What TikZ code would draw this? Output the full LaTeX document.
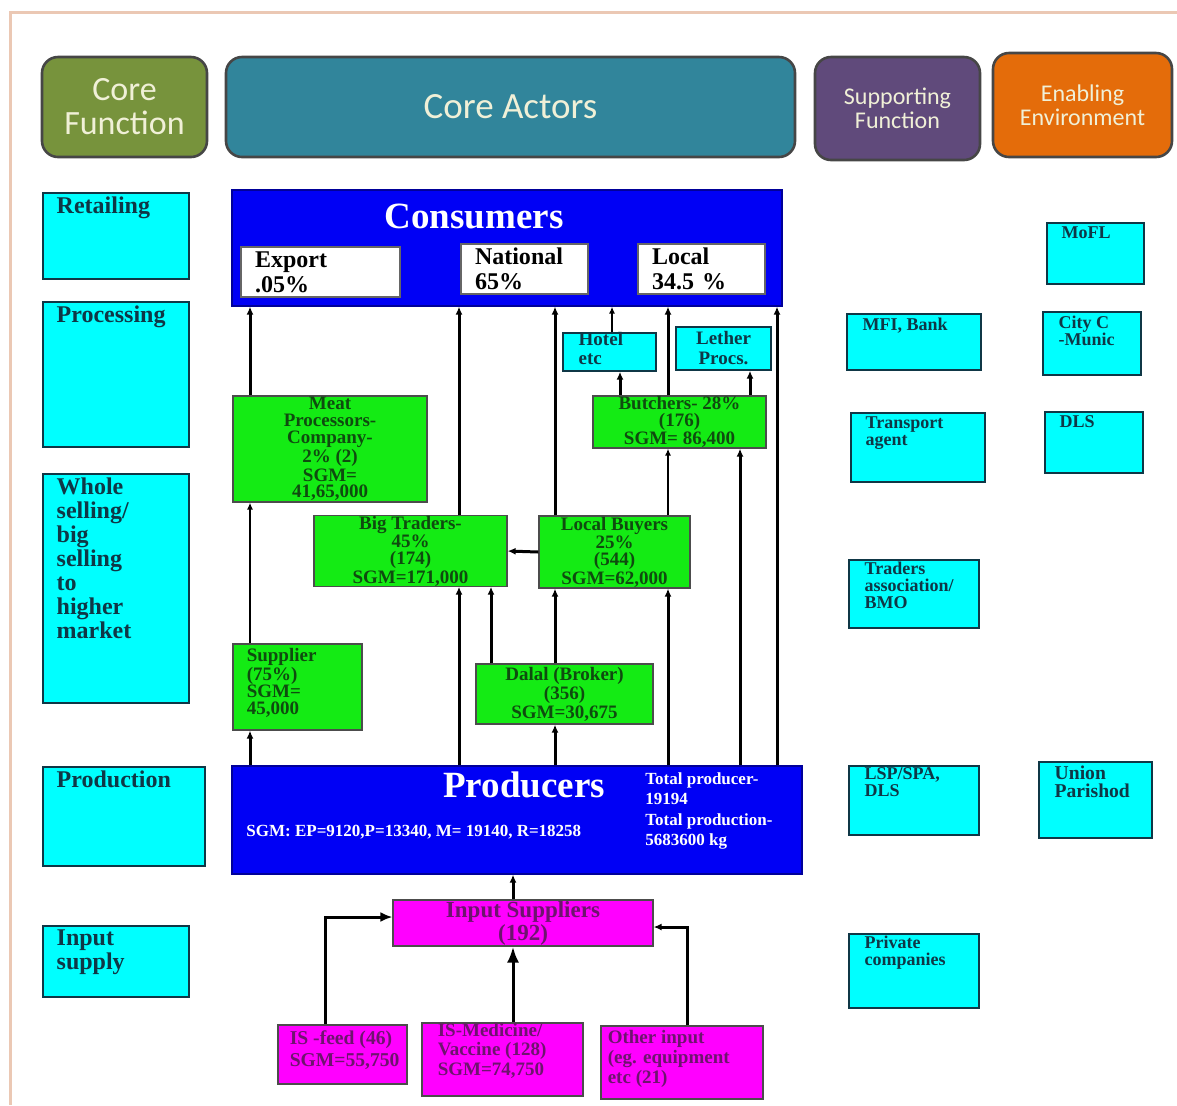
\documentclass[tikz,border=0pt]{standalone}
\usepackage{fontspec}
\setmainfont{Liberation Serif}
\newfontfamily\hdrfont{Carlito}
\usetikzlibrary{arrows.meta}

\definecolor{hdrgreen}{RGB}{119,147,60}
\definecolor{hdrteal}{RGB}{49,133,155}
\definecolor{hdrpurple}{RGB}{96,74,123}
\definecolor{hdrorange}{RGB}{228,108,10}
\definecolor{hdrgray}{RGB}{70,70,70}
\definecolor{hdrtext}{RGB}{240,240,215}
\definecolor{cyanfill}{RGB}{0,255,255}
\definecolor{limefill}{RGB}{20,235,20}
\definecolor{magfill}{RGB}{255,0,255}
\definecolor{consblue}{RGB}{0,0,245}
\definecolor{labteal}{RGB}{15,55,70}
\definecolor{labgreen}{RGB}{15,75,15}
\definecolor{labpurple}{RGB}{110,20,110}
\definecolor{framepeach}{RGB}{235,200,180}

\tikzset{
  hdr/.style={draw=hdrgray, line width=1.3pt, rounded corners=8pt, text=hdrtext, align=center, inner sep=0pt},
  cybox/.style={draw=labteal, line width=0.7pt, fill=cyanfill, inner sep=0pt},
  grbox/.style={draw=black!70, line width=0.6pt, fill=limefill, text=labgreen, align=center, inner sep=0pt,
    font=\bfseries\fontsize{9.5}{8.3}\selectfont},
  mgbox/.style={draw=black!70, line width=0.6pt, fill=magfill, text=labpurple, align=center, inner sep=0pt},
  bluebox/.style={draw=blue!60!black, line width=0.6pt, fill=consblue, inner sep=0pt},
  whbox/.style={draw=black!60, line width=0.6pt, fill=white, align=left, inner xsep=7pt, inner ysep=0pt,
    font=\bfseries\fontsize{12}{12.5}\selectfont},
  lbl/.style={anchor=north west, text=labteal, align=left, inner xsep=7pt, inner ysep=2pt,
    font=\bfseries\fontsize{12}{12}\selectfont},
  rlbl/.style={anchor=north west, text=labteal, align=left, inner xsep=8pt, inner ysep=2pt,
    font=\bfseries\fontsize{9}{8.5}\selectfont},
  flow/.style={line width=1.5pt, -{Latex[length=4pt,width=3.5pt]}},
  thinflow/.style={line width=1pt, -{Latex[length=3.5pt,width=3pt]}},
}

\begin{document}
\begin{tikzpicture}[x=0.5pt, y=-0.5pt]
\useasboundingbox (0,0) rectangle (1177,1105);
\draw[framepeach, line width=1.5pt] (10,1105) -- (10,12) -- (1177,12);

% headers
\node[hdr, fill=hdrgreen, minimum width=82.5pt, minimum height=50pt, font=\hdrfont\fontsize{17}{17}\selectfont] (corefn) at (124.5,107) {Core\\Function};
\node[hdr, fill=hdrteal, minimum width=284.5pt, minimum height=50pt, font=\hdrfont\fontsize{18.5}{18.5}\selectfont] (coreact) at (510.5,107) {Core Actors};
\node[hdr, fill=hdrpurple, minimum width=82.5pt, minimum height=51.5pt, font=\hdrfont\fontsize{12}{12}\selectfont] (suppfn) at (897.5,108.5) {Supporting\\Function};
\node[hdr, fill=hdrorange, minimum width=89.5pt, minimum height=52pt, font=\hdrfont\fontsize{12}{12}\selectfont] (enabenv) at (1082.5,105) {Enabling\\Environment};

% core functions
\node[cybox, minimum width=73pt, minimum height=43pt] (retail) at (116,236) {};
\node[lbl] (retailtxt) at (retail.north west) {Retailing};
\node[cybox, minimum width=73pt, minimum height=72.5pt] (process) at (116,374.5) {};
\node[lbl] (processtxt) at (process.north west) {Processing};
\node[cybox, minimum width=73pt, minimum height=114.5pt] (whsell) at (116,588.5) {};
\node[lbl] (whselltxt) at (whsell.north west) {Whole\\selling/\\big\\selling\\to\\higher\\market};
\node[cybox, minimum width=81pt, minimum height=49.5pt] (prodfn) at (124,816.5) {};
\node[lbl] (prodfntxt) at (prodfn.north west) {Production};
\node[cybox, minimum width=73pt, minimum height=35.5pt] (inpfn) at (116,961.5) {};
\node[lbl] (inpfntxt) at (inpfn.north west) {Input\\supply};

% consumers
\node[bluebox, minimum width=275pt, minimum height=58pt] (cons) at (507,248) {};
\node[text=white, font=\bfseries\fontsize{18.5}{18.5}\selectfont] (constitle) at (474,216) {Consumers};
\node[whbox, text width=65.5pt, minimum height=25pt] (export) at (320.5,272) {Export\\.05\%};
\node[whbox, text width=49.5pt, minimum height=25pt] (national) at (524.5,269) {National\\65\%};
\node[whbox, text width=49.5pt, minimum height=25pt] (local) at (701.5,269) {Local\\34.5 \%};

% producers
\node[bluebox, minimum width=285pt, minimum height=54pt] (prod) at (517,820) {};
\node[text=white, font=\bfseries\fontsize{18.5}{18.5}\selectfont] (prodtitle) at (524,785) {Producers};
\node[anchor=west, text=white, inner sep=0pt, font=\bfseries\fontsize{8.5}{10}\selectfont] (prodsgm) at (246,832) {SGM: EP=9120,P=13340, M= 19140, R=18258};
\node[anchor=west, text=white, align=left, inner sep=0pt, font=\bfseries\fontsize{8.5}{10.2}\selectfont] (prodtot) at (645,811) {Total producer-\\19194\\Total production-\\5683600 kg};

% traders and processors
\node[grbox, minimum width=97pt, minimum height=53pt] (meat) at (330,449) {Meat\\Processors-\\Company-\\2\% (2)\\SGM=\\41,65,000};
\node[grbox, minimum width=86.5pt, minimum height=26pt] (butch) at (679.5,422) {Butchers- 28\%\\(176)\\SGM= 86,400};
\node[grbox, minimum width=96.5pt, minimum height=35pt] (bigtr) at (410.5,551) {Big Traders-\\45\%\\(174)\\SGM=171,000};
\node[grbox, minimum width=75.5pt, minimum height=36pt] (locbuy) at (614.5,552) {Local Buyers\\25\%\\(544)\\SGM=62,000};
\node[grbox, minimum width=64.5pt, minimum height=43pt] (suppl) at (297.5,687) {};
\node[anchor=north west, text=labgreen, align=left, inner xsep=7pt, inner ysep=2pt, font=\bfseries\fontsize{9.5}{8.5}\selectfont] (suppltxt) at (suppl.north west) {Supplier\\(75\%)\\SGM=\\45,000};
\node[grbox, minimum width=88.5pt, minimum height=30pt] (dalal) at (564.5,694) {Dalal (Broker)\\(356)\\SGM=30,675};

% hotel and leather
\node[cybox, minimum width=46.5pt, minimum height=19pt] (hotel) at (609.5,352) {};
\node[rlbl, inner ysep=0pt, font=\bfseries\fontsize{9.5}{9.5}\selectfont] (hoteltxt) at (hotel.north west) {Hotel\\etc};
\node[cybox, minimum width=47.5pt, minimum height=21.5pt, text=labteal, align=center, font=\bfseries\fontsize{9.5}{10}\selectfont] (lether) at (723.5,348.5) {Lether\\Procs.};

% input suppliers
\node[mgbox, minimum width=130pt, minimum height=23pt, font=\bfseries\fontsize{11.5}{11.5}\selectfont] (insupp) at (523,923) {Input Suppliers\\(192)};
\node[mgbox, minimum width=64.5pt, minimum height=29.5pt] (isfeed) at (342.5,1054.5) {};
\node[anchor=north west, text=labpurple, align=left, inner xsep=6pt, inner ysep=3pt, font=\bfseries\fontsize{9.8}{11}\selectfont] (isfeedtxt) at (isfeed.north west) {IS -feed (46)\\SGM=55,750};
\node[mgbox, minimum width=80.5pt, minimum height=36.5pt] (ismed) at (502.5,1059.5) {};
\node[anchor=north west, text=labpurple, align=left, inner xsep=8pt, inner ysep=0pt, font=\bfseries\fontsize{9.5}{9.8}\selectfont] (ismedtxt) at (ismed.north west) {IS-Medicine/\\Vaccine (128)\\SGM=74,750};
\node[mgbox, minimum width=81pt, minimum height=36.5pt] (isother) at (682,1062.5) {};
\node[anchor=north west, text=labpurple, align=left, inner xsep=3.5pt, inner ysep=2pt, font=\bfseries\fontsize{9.5}{10.2}\selectfont] (isothertxt) at (isother.north west) {Other input\\(eg. equipment\\etc (21)};

% supporting functions
\node[cybox, minimum width=67pt, minimum height=28pt] (mfi) at (914,342) {};
\node[rlbl] (mfitxt) at (mfi.north west) {MFI, Bank};
\node[cybox, minimum width=67pt, minimum height=34.5pt] (transp) at (918,447.5) {};
\node[rlbl, inner xsep=7.5pt] (transptxt) at (transp.north west) {Transport\\agent};
\node[cybox, minimum width=65pt, minimum height=34pt] (tradeas) at (914,594) {};
\node[rlbl, inner ysep=1pt] (tradeastxt) at (tradeas.north west) {Traders\\association/\\BMO};
\node[cybox, minimum width=65pt, minimum height=34.5pt] (lsp) at (914,800.5) {};
\node[rlbl, inner ysep=1pt] (lsptxt) at (lsp.north west) {LSP/SPA,\\DLS};
\node[cybox, minimum width=65pt, minimum height=37pt] (privco) at (914,971) {};
\node[rlbl, inner ysep=1pt] (privcotxt) at (privco.north west) {Private\\companies};

% enabling environment
\node[cybox, minimum width=48.5pt, minimum height=30.5pt] (mofl) at (1095.5,253.5) {};
\node[rlbl, inner xsep=7.5pt] (mofltxt) at (mofl.north west) {MoFL};
\node[cybox, minimum width=49pt, minimum height=31.5pt] (citycm) at (1092,343.5) {};
\node[rlbl] (citycmtxt) at (citycm.north west) {City C\\-Munic};
\node[cybox, minimum width=49pt, minimum height=30.5pt] (dls) at (1094,442.5) {};
\node[rlbl, inner xsep=7.5pt] (dlstxt) at (dls.north west) {DLS};
\node[cybox, minimum width=56.5pt, minimum height=38pt] (union) at (1095.5,800) {};
\node[rlbl, font=\bfseries\fontsize{9.8}{9}\selectfont] (uniontxt) at (union.north west) {Union\\Parishod};

% lanes for the flows
\coordinate (laneA) at (250,0);
\coordinate (laneB) at (459,0);
\coordinate (laneC) at (491,0);
\coordinate (laneD) at (555,0);
\coordinate (laneE) at (612,0);
\coordinate (laneF) at (620,0);
\coordinate (laneG) at (668,0);
\coordinate (laneH) at (740,0);
\coordinate (laneI) at (750,0);
\coordinate (laneJ) at (777,0);
\coordinate (laneK) at (513,0);
\coordinate (laneL) at (325,0);
\coordinate (laneM) at (687,0);

% to consumers
\draw[flow] (meat.north -| laneA) -- (cons.south -| laneA);
\draw[flow] (bigtr.north -| laneB) -- (cons.south -| laneB);
\draw[flow] (locbuy.north -| laneD) -- (cons.south -| laneD);
\draw[thinflow] (hotel.north -| laneE) -- (cons.south -| laneE);
\draw[flow] (butch.north -| laneG) -- (cons.south -| laneG);
\draw[flow] (prod.north -| laneJ) -- (cons.south -| laneJ);
\draw[flow] (butch.north -| laneF) -- (hotel.south -| laneF);
\draw[flow] (butch.north -| laneI) -- (lether.south -| laneI);
% to butchers
\draw[thinflow] (locbuy.north -| laneG) -- (butch.south -| laneG);
\draw[flow] (prod.north -| laneH) -- (butch.south -| laneH);
% traders
\draw[flow] (locbuy.west) -- (bigtr.east);
\draw[thinflow] (suppl.north -| laneA) -- (meat.south -| laneA);
\draw[flow] (prod.north -| laneA) -- (suppl.south -| laneA);
\draw[flow] (prod.north -| laneB) -- (bigtr.south -| laneB);
\draw[flow] (dalal.north -| laneC) -- (bigtr.south -| laneC);
\draw[flow] (dalal.north -| laneD) -- (locbuy.south -| laneD);
\draw[flow] (prod.north -| laneD) -- (dalal.south -| laneD);
\draw[flow] (prod.north -| laneG) -- (locbuy.south -| laneG);
% inputs
\draw[flow] (insupp.north -| laneK) -- (prod.south -| laneK);
\draw[line width=1.5pt, -{Latex[length=8pt,width=6pt]}] (ismed.north -| laneK) -- (insupp.south -| laneK);
\draw[line width=1.5pt, -{Latex[length=6pt,width=5pt]}] (isfeed.north -| laneL) |- ([yshift=3pt]insupp.west);
\draw[flow] (isother.north -| laneM) |- ([yshift=-2pt]insupp.east);
\end{tikzpicture}
\end{document}
